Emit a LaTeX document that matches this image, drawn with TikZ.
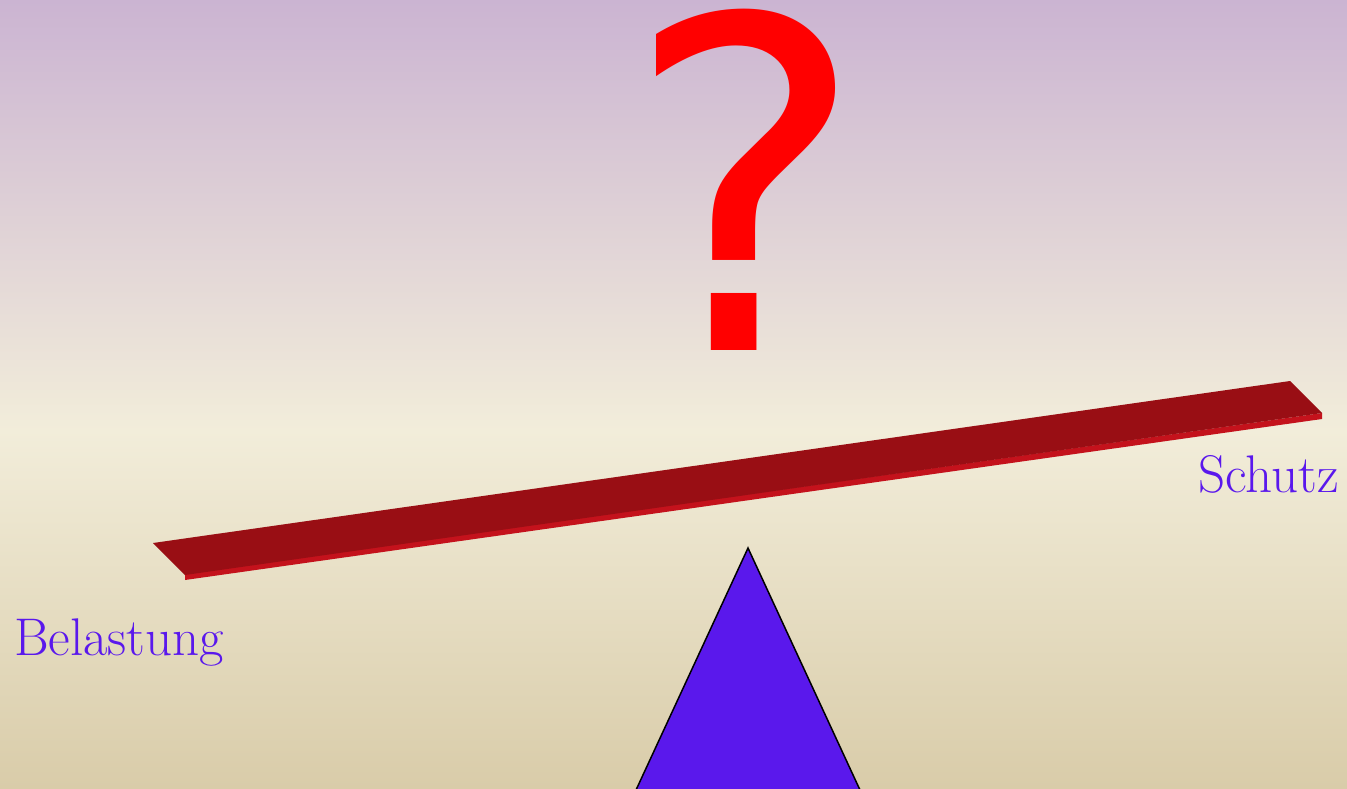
\documentclass[tikz,border=0pt]{standalone}
\usepackage{fontspec}
\newfontfamily\qfont{DejaVu Sans}
\usetikzlibrary{positioning}
\definecolor{bgtop}{RGB}{203,180,210}
\definecolor{bgmid}{RGB}{242,237,218}
\definecolor{bgbot}{RGB}{217,204,169}
\definecolor{beamtop}{RGB}{153,14,20}
\definecolor{beamside}{RGB}{196,18,28}
\definecolor{violet}{RGB}{90,24,236}

\begin{document}
\begin{tikzpicture}[
    x=1pt, y=-1pt,
    label/.style={text=violet, font=\fontsize{53}{53}\selectfont, inner sep=0pt},
    question/.style={text=red, font=\qfont\fontsize{460}{460}\selectfont, inner sep=0pt}
]
\useasboundingbox (0,0) rectangle (1347,788);

% background
\shade[top color=bgtop, bottom color=bgmid] (0,0) rectangle (1347,431);
\shade[top color=bgmid, bottom color=bgbot] (0,430) rectangle (1347,788);

% beam
\fill[beamside] (185,574) -- (1322,413) -- (1322,419) -- (185,580) -- cycle;
\fill[beamtop] (153,543) -- (1290,381) -- (1322,413) -- (185,575) -- cycle;

% fulcrum
\draw[fill=violet, line width=1.5pt, line join=miter] (636,790) -- (748,548) -- (860,790);

\node[question, anchor=base] (ask) at (746,350) {?};
\node[label, anchor=base west] (load) at (14,655) {Belastung};
\node[label, anchor=base west] (guard) at (1198,492) {Schutz};

\end{tikzpicture}
\end{document}
